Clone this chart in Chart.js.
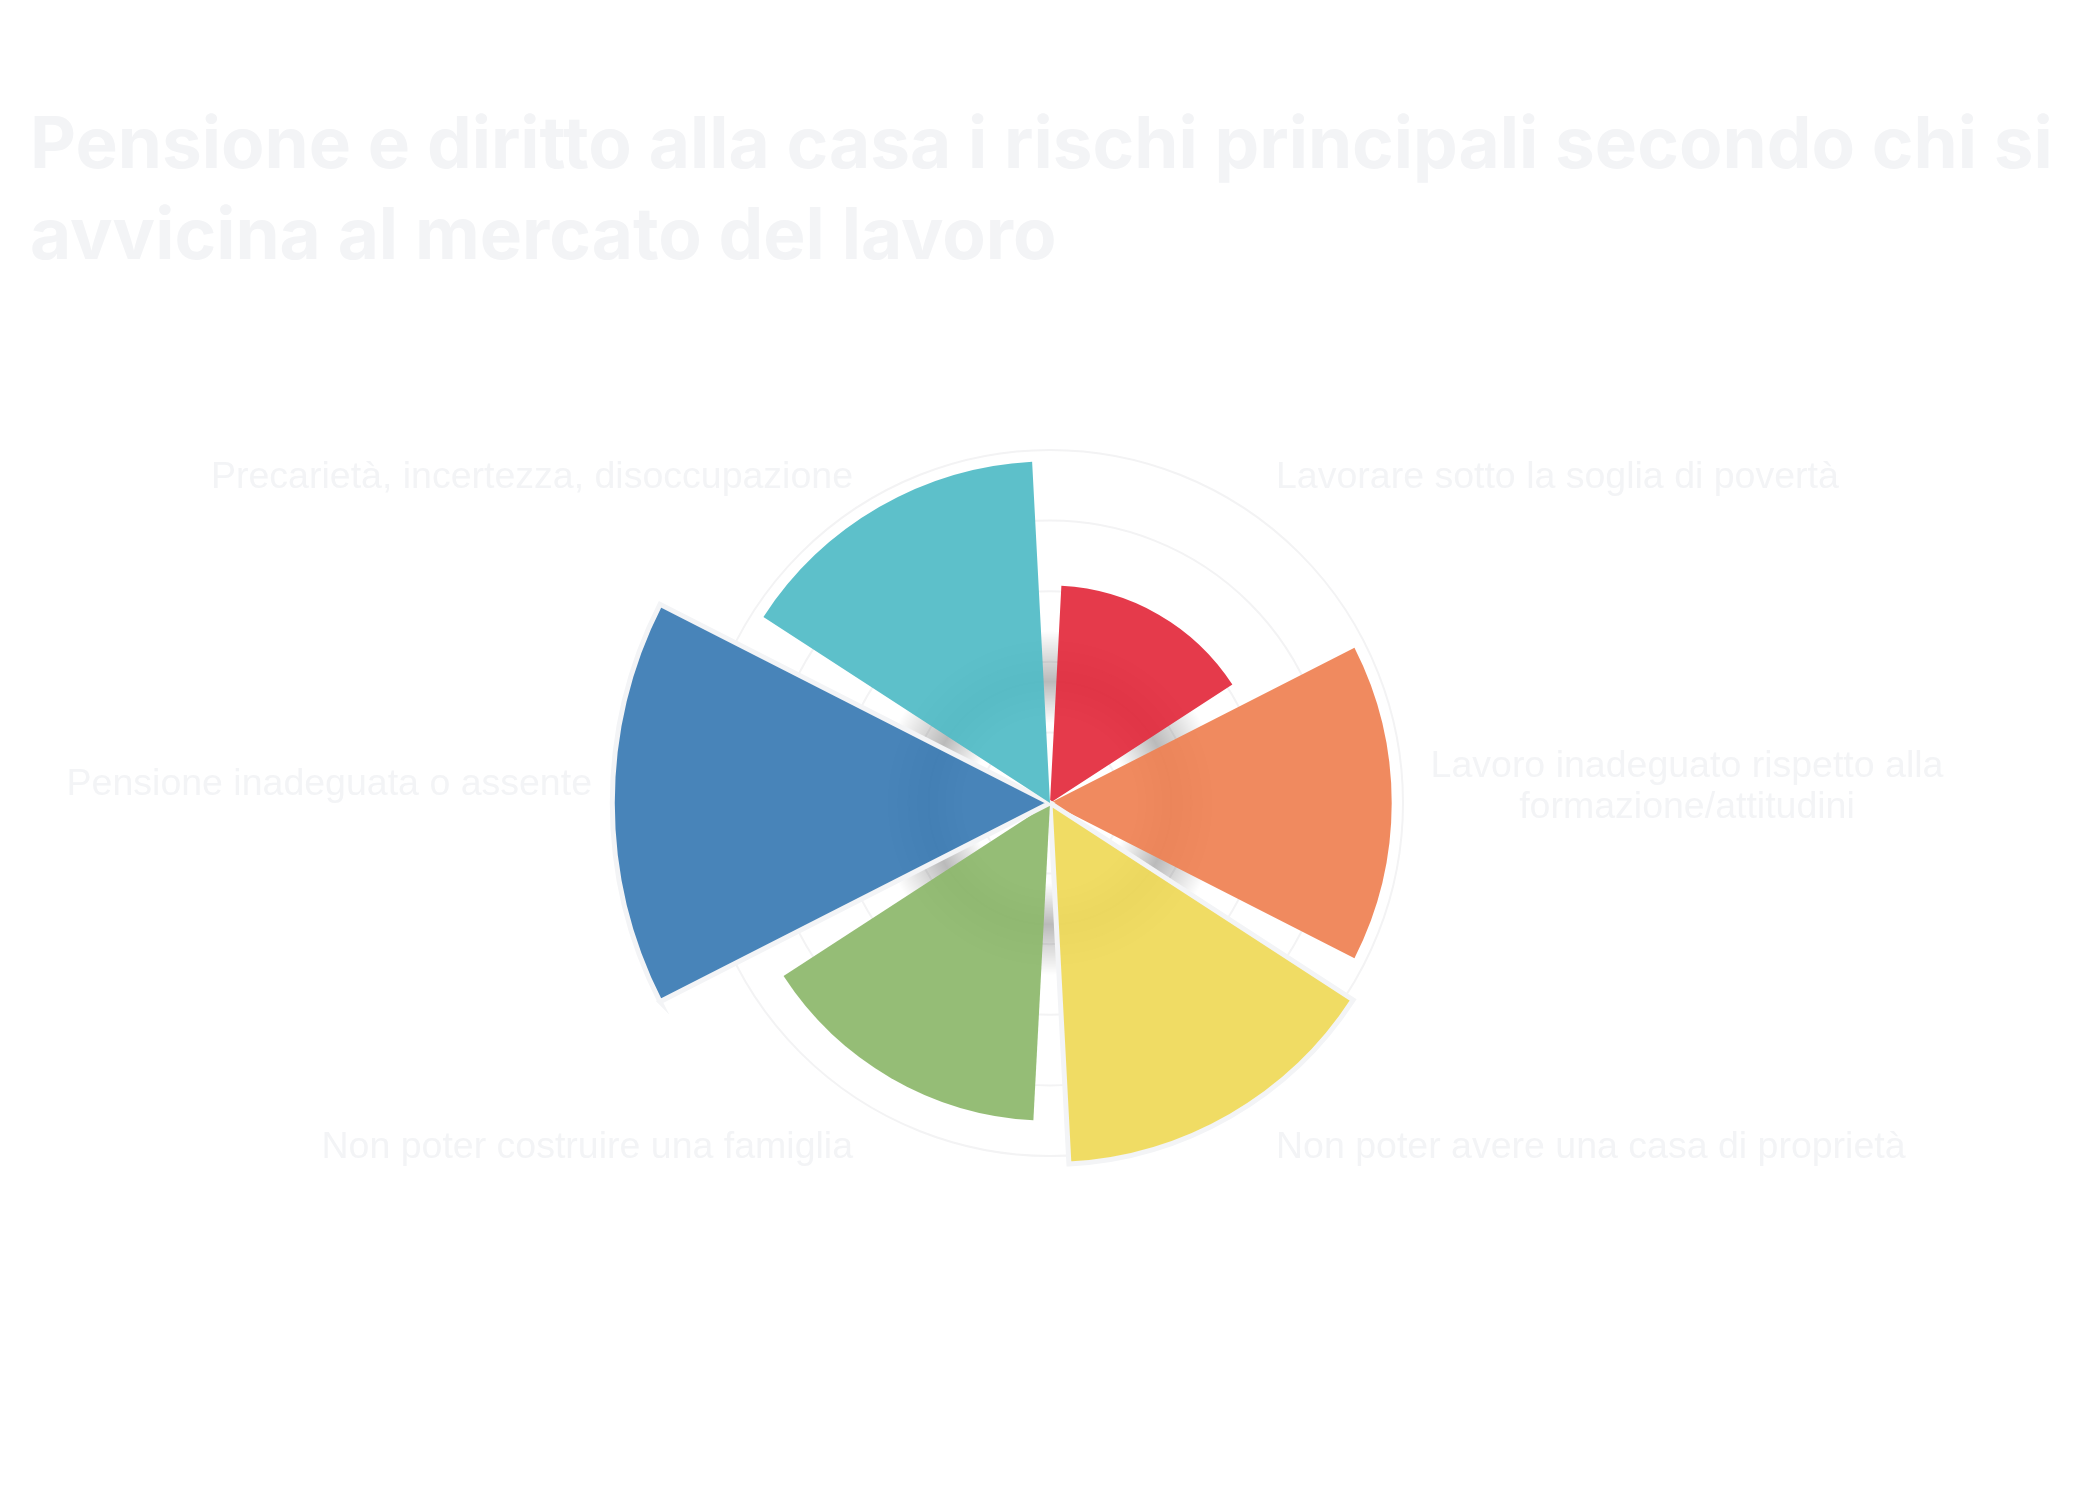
<!DOCTYPE html>
<html lang="it">
<head>
<meta charset="utf-8">
<title>Pensione e diritto alla casa</title>
<script src="https://cdn.jsdelivr.net/npm/chart.js@4.4.1/dist/chart.umd.min.js"></script>
<style>
  html, body { margin: 0; padding: 0; background: #ffffff; }
  canvas { display: block; }
</style>
</head>
<body>
<canvas id="chart" width="2100" height="1500"></canvas>
<script>
// ---- data ----
const titleLines = [
  'Pensione e diritto alla casa i rischi principali secondo chi si',
  'avvicina al mercato del lavoro'
];
const categories = [
  'Lavorare sotto la soglia di povertà',
  ['Lavoro inadeguato rispetto alla', 'formazione/attitudini'],
  'Non poter avere una casa di proprietà',
  'Non poter costruire una famiglia',
  'Pensione inadeguata o assente',
  'Precarietà, incertezza, disoccupazione'
];
const values = [15.4, 24.2, 25.6, 22.5, 31.0, 24.2];
const scaleMax = 25;
const scaleStep = 5;

// ---- styles ----
const segmentColors = [
  'rgba(227,43,61,0.93)',
  'rgba(239,129,83,0.93)',
  'rgba(239,217,88,0.93)',
  'rgba(141,184,108,0.93)',
  'rgba(58,123,180,0.93)',
  'rgba(81,187,198,0.93)'
];
const segmentBorderWidths = [0, 0, 5, 0, 5, 0];
const lightText = '#f3f4f6';

// angular gap on each side of every wedge
const segmentGapPlugin = {
  id: 'segmentGap',
  afterDatasetUpdate(chart, args, opts) {
    const g = (opts.degrees || 0) * Math.PI / 180;
    args.meta.data.forEach(arc => {
      arc.startAngle += g;
      arc.endAngle -= g;
    });
  }
};

// soft grey ring behind the wedges near the centre
const centerShadePlugin = {
  id: 'centerShade',
  beforeDatasetsDraw(chart, args, opts) {
    const s = chart.scales.r;
    const ctx = chart.ctx;
    const cx = s.xCenter, cy = s.yCenter;
    const g = ctx.createRadialGradient(cx, cy, opts.inner, cx, cy, opts.outer);
    g.addColorStop(0, 'rgba(0,0,0,0)');
    g.addColorStop(0.45, opts.color);
    g.addColorStop(1, 'rgba(0,0,0,0)');
    ctx.save();
    ctx.fillStyle = g;
    ctx.beginPath();
    ctx.arc(cx, cy, opts.outer, 0, Math.PI * 2);
    ctx.fill();
    ctx.restore();
  }
};

// category labels around the chart
const sideLabelsPlugin = {
  id: 'sideLabels',
  afterDraw(chart, args, opts) {
    const s = chart.scales.r;
    const ctx = chart.ctx;
    ctx.save();
    ctx.font = opts.font;
    ctx.fillStyle = opts.color;
    ctx.textBaseline = 'alphabetic';
    chart.data.labels.forEach((lab, i) => {
      const a = opts.anchors[i];
      const lines = Array.isArray(lab) ? lab : [lab];
      ctx.textAlign = a.align;
      lines.forEach((ln, j) => {
        ctx.fillText(ln, s.xCenter + a.dx, s.yCenter + a.dy + j * opts.lineHeight);
      });
    });
    ctx.restore();
  }
};

function draw() {
  new Chart(document.getElementById('chart'), {
    type: 'polarArea',
    data: {
      labels: categories,
      datasets: [{
        data: values,
        backgroundColor: segmentColors,
        borderColor: '#f3f4f6',
        borderWidth: segmentBorderWidths,
        borderJoinStyle: 'miter',
        clip: false
      }]
    },
    options: {
      responsive: false,
      devicePixelRatio: 1,
      animation: false,
      events: [],
      layout: { padding: { top: 0, left: 30, right: 30, bottom: 343 } },
      scales: {
        r: {
          min: 0,
          max: scaleMax,
          z: 1,
          ticks: { display: false, stepSize: scaleStep },
          grid: { circular: true, color: 'rgba(17,24,39,0.05)', lineWidth: 2 },
          angleLines: { display: false },
          pointLabels: { display: false }
        }
      },
      plugins: {
        legend: { display: false },
        tooltip: { enabled: false },
        title: {
          display: true,
          text: titleLines,
          align: 'start',
          color: lightText,
          font: { family: 'Inter', size: 71, weight: '700', lineHeight: 1.27 },
          padding: { top: 102, bottom: 167 }
        },
        segmentGap: { degrees: 3 },
        centerShade: { inner: 80, outer: 172, color: 'rgba(0,0,0,0.27)' },
        sideLabels: {
          font: '37.5px "Liberation Sans", Arial, sans-serif',
          color: lightText,
          lineHeight: 41,
          anchors: [
            { dx: 226, dy: -315, align: 'left' },
            { dx: 637, dy: -26, align: 'center' },
            { dx: 226, dy: 355, align: 'left' },
            { dx: -197, dy: 355, align: 'right' },
            { dx: -458, dy: -8, align: 'right' },
            { dx: -197, dy: -315, align: 'right' }
          ]
        }
      }
    },
    plugins: [segmentGapPlugin, centerShadePlugin, sideLabelsPlugin]
  });
}

const fontLoads = document.fonts ? Promise.all([
  document.fonts.load('700 71px Inter'),
  document.fonts.load('37.5px "Liberation Sans"')
]).catch(() => null) : Promise.resolve();
fontLoads.then(draw, draw);
</script>
</body>
</html>
